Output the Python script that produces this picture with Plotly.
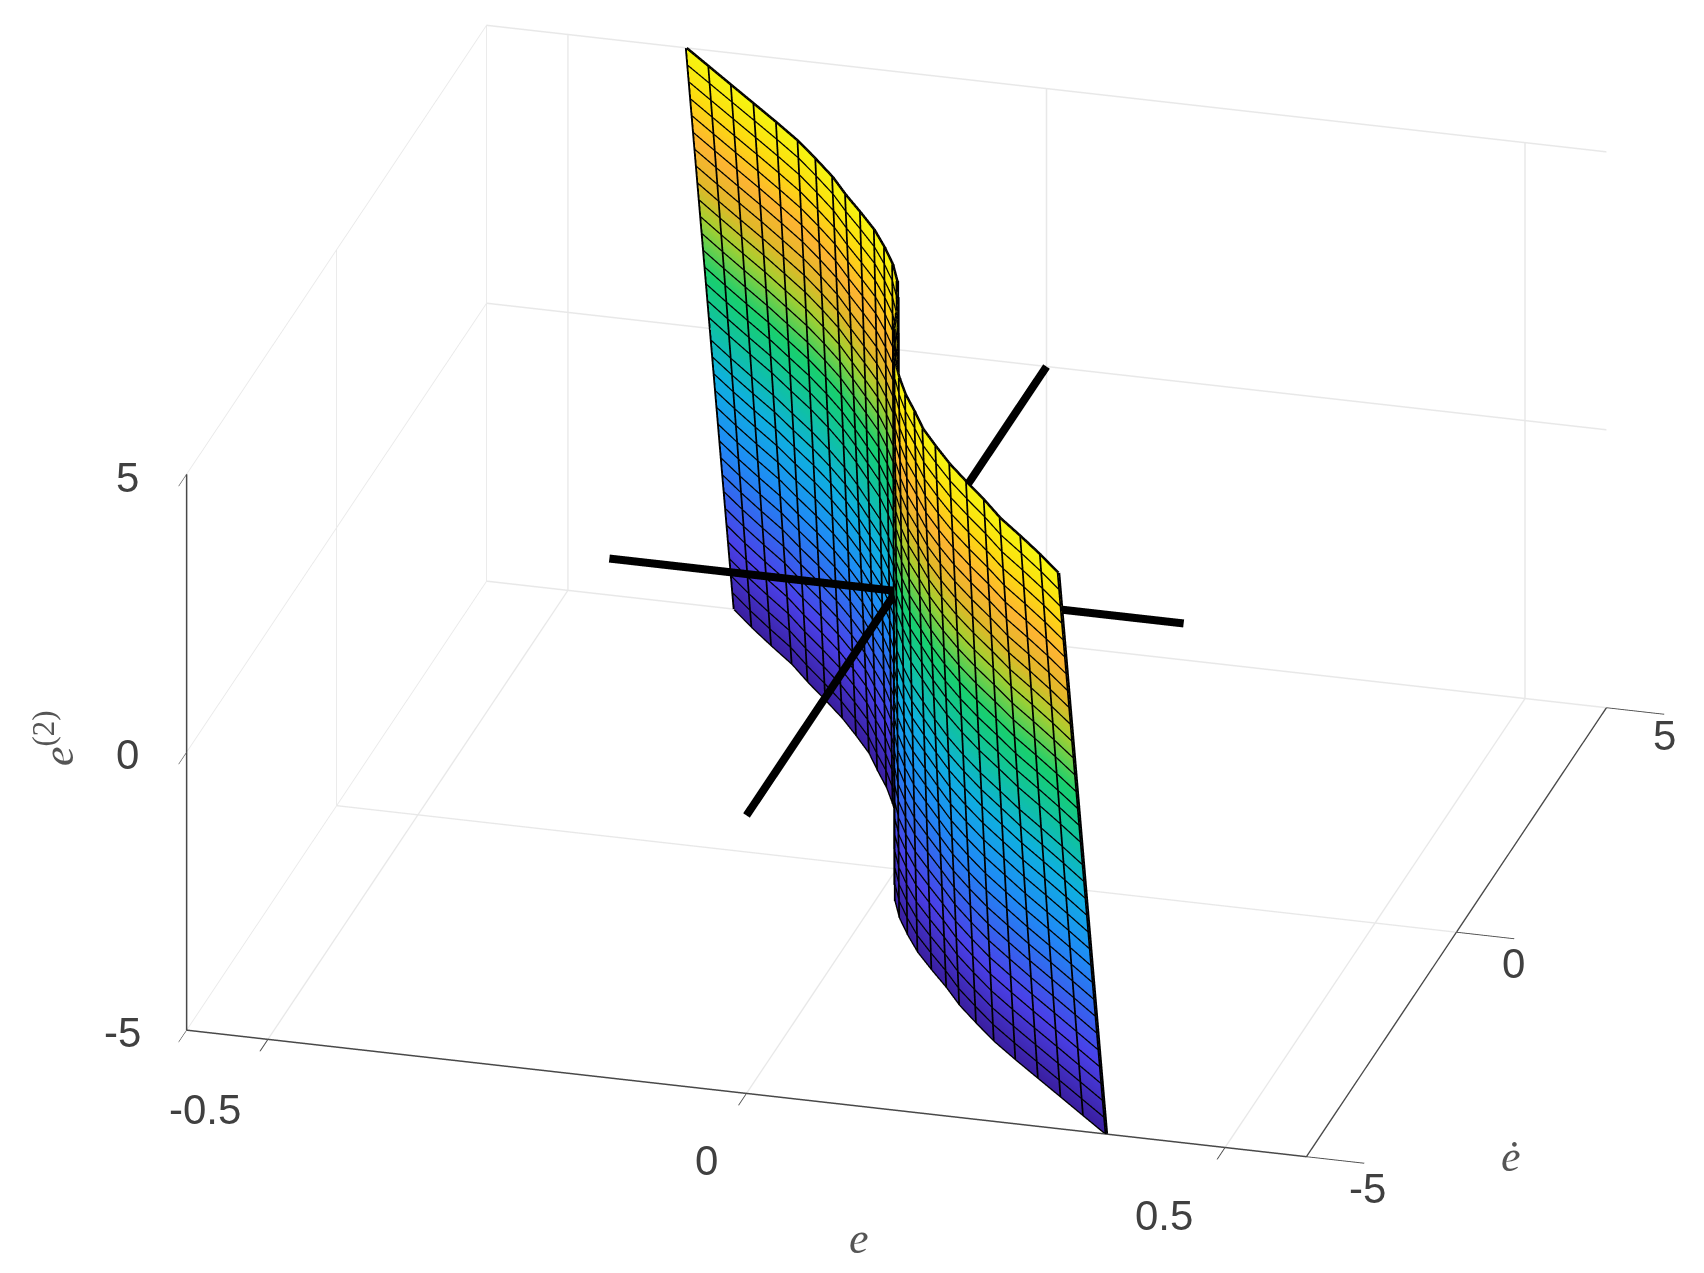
import plotly.graph_objects as go

# values
edot_vals = [-5, -4.667, -4.333, -4, -3.667, -3.333, -3, -2.667, -2.333, -2, -1.667, -1.333, -1, -0.667, -0.333, 0,
             0.333, 0.667, 1, 1.333, 1.667, 2, 2.333, 2.667, 3, 3.333, 3.667, 4, 4.333, 4.667, 5]
e_top = [0.326, 0.297, 0.266, 0.234, 0.207, 0.178, 0.150, 0.125, 0.101, 0.082, 0.062, 0.045, 0.030, 0.018, 0.008, 0,
         -0.009, -0.020, -0.035, -0.054, -0.075, -0.100, -0.126, -0.150, -0.178, -0.207, -0.240, -0.274, -0.308, -0.342, -0.376]
e_bot = [0.376, 0.342, 0.308, 0.274, 0.240, 0.207, 0.178, 0.150, 0.126, 0.100, 0.075, 0.054, 0.035, 0.020, 0.009, 0,
         -0.008, -0.018, -0.030, -0.045, -0.062, -0.082, -0.101, -0.125, -0.150, -0.178, -0.207, -0.234, -0.266, -0.297, -0.326]
z_edges = [5, -5]
z_rows = [-5, -4.7, -4.4, -4.1, -3.8, -3.5, -3.2, -2.9, -2.6, -2.3, -2, -1.7, -1.4, -1.1, -0.8, -0.5, -0.2,
          0.2, 0.5, 0.8, 1.1, 1.4, 1.7, 2, 2.3, 2.6, 2.9, 3.2, 3.5, 3.8, 4.1, 4.4, 4.7, 5]
line_e = [-0.3, 0.3]
line_edot = [-5, 5]
e_ticks = [-0.5, 0, 0.5]
edot_ticks = [-5, 0, 5]
z_ticks = [-5, 0, 5]
e_labels = ["-0.5", "0", "0.5"]
edot_labels = ["-5", "0", "5"]
z_labels = ["-5", "0", "5"]

parula = [[0, "#3a1fa0"], [0.12, "#4a40e8"], [0.3, "#1f8cf5"], [0.42, "#0fb0e0"], [0.5, "#0fc0a8"], [0.6, "#18cf70"],
          [0.7, "#a8cf30"], [0.76, "#e0b828"], [0.84, "#fdb432"], [0.92, "#fddc10"], [1, "#f6f510"]]

fig = go.Figure()

fig.add_trace(go.Surface(
    x=[e_top, e_bot],
    y=[edot_vals, edot_vals],
    z=[[z_edges[0]] * len(edot_vals), [z_edges[1]] * len(edot_vals)],
    colorscale=parula, cmin=-5, cmax=5, showscale=False,
    lighting=dict(ambient=1, diffuse=0, specular=0, roughness=1, fresnel=0),
))

# mesh lines, thicker than surface contours can be drawn
cols_x, cols_y, cols_z = [], [], []
for a, b, d in zip(e_top, e_bot, edot_vals):
    cols_x += [a, b, None]
    cols_y += [d, d, None]
    cols_z += [z_edges[0], z_edges[1], None]
rows_x, rows_y, rows_z = [], [], []
for zr in z_rows:
    rows_x += [b + (a - b) * (zr + 5) / 10 for a, b in zip(e_top, e_bot)] + [None]
    rows_y += edot_vals + [None]
    rows_z += [zr] * len(edot_vals) + [None]
fig.add_trace(go.Scatter3d(x=cols_x, y=cols_y, z=cols_z, mode="lines",
                           line=dict(color="black", width=7), showlegend=False))
fig.add_trace(go.Scatter3d(x=rows_x, y=rows_y, z=rows_z, mode="lines",
                           line=dict(color="black", width=5), showlegend=False))

fig.add_trace(go.Scatter3d(x=line_e, y=[0, 0], z=[0, 0], mode="lines",
                           line=dict(color="black", width=16), showlegend=False))
fig.add_trace(go.Scatter3d(x=[0, 0], y=line_edot, z=[0, 0], mode="lines",
                           line=dict(color="black", width=16), showlegend=False))

axis = dict(showbackground=False, gridcolor="#e8e8e8", gridwidth=3, showline=True, linecolor="#484848", linewidth=3,
            ticks="outside", tickcolor="#484848", tickwidth=2, zeroline=False, title="",
            showticklabels=False, showspikes=False)

tick_font = dict(family="Liberation Sans", size=42, color="#404040")
title_font = dict(family="Liberation Serif", size=44, color="#555555")

labels = []
for val, txt, sx, sy in zip(e_ticks, e_labels, [-63, -41, -62], [-71, -67, -68]):
    labels.append(dict(x=val, y=-5, z=-5, text=txt, showarrow=False, xshift=sx, yshift=sy, font=tick_font))
for val, txt, sx, sy in zip(edot_ticks, edot_labels, [60, 56, 57], [-32, -32, -28]):
    labels.append(dict(x=0.585, y=val, z=-5, text=txt, showarrow=False, xshift=sx, yshift=sy, font=tick_font))
for val, txt, sx in zip(z_ticks, z_labels, [-65, -60, -60]):
    labels.append(dict(x=-0.585, y=-5, z=val, text=txt, showarrow=False, xshift=sx, yshift=-3, font=tick_font))
labels.append(dict(x=0.117, y=-5, z=-5, text="<i>e</i>", showarrow=False, xshift=0, yshift=-133, font=title_font))
labels.append(dict(x=0.585, y=-5, z=-5, text="<i>ė</i>", showarrow=False, xshift=204, yshift=0, font=title_font))
labels.append(dict(x=-0.585, y=-5, z=0, text="<i>e</i><sup>(2)</sup>", showarrow=False, xshift=-132, yshift=13,
                   textangle=-90, font=title_font))

fig.update_layout(
    width=1704, height=1273, margin=dict(l=0, r=0, t=0, b=0), paper_bgcolor="white", showlegend=False,
    scene=dict(
        domain=dict(x=[0.0478, 0.9958], y=[0.0844, 1]),
        xaxis=dict(axis, range=[-0.585, 0.585], tickvals=e_ticks, ticklen=60),
        yaxis=dict(axis, range=[-5, 5], tickvals=edot_ticks, ticklen=30),
        zaxis=dict(axis, range=[-5, 5], tickvals=z_ticks, ticklen=45),
        aspectmode="manual", aspectratio=dict(x=1.992, y=1.942, z=1.046),
        camera=dict(eye=dict(x=0.925, y=-3.366, z=1.575), center=dict(x=0, y=0, z=0),
                    projection=dict(type="orthographic")),
        annotations=labels,
    ),
)

fig.write_html("out.html")
